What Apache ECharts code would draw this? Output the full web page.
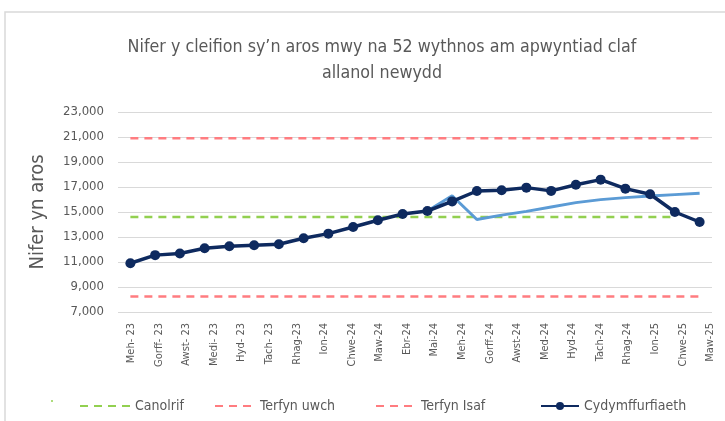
<!DOCTYPE html>
<html>
<head>
<meta charset="utf-8">
<script src="https://cdn.jsdelivr.net/npm/echarts@6/dist/echarts.min.js"></script>
<style>
  html, body { margin: 0; padding: 0; background: #fff; }
  #chart { width: 725px; height: 421px; }
</style>
</head>
<body>
<div id="chart"></div>
<script>
// mis-labeli ar yr echel (22)
const axisLabels = ['Meh- 23', 'Gorff- 23', 'Awst- 23', 'Medi- 23', 'Hyd- 23', 'Tach- 23', 'Rhag-23', 'Ion-24',
    'Chwe-24', 'Maw-24', 'Ebr-24', 'Mai-24', 'Meh-24', 'Gorff-24', 'Awst-24', 'Med-24', 'Hyd-24',
    'Tach-24', 'Rhag-24', 'Ion-25', 'Chwe-25', 'Maw-25'];
// misoedd y data (24 pwynt)
const months = ['Meh-23', 'Gorff-23', 'Awst-23', 'Medi-23', 'Hyd-23', 'Tach-23', 'Rhag-23', 'Ion-24',
    'Chwe-24', 'Maw-24', 'Ebr-24', 'Mai-24', 'Meh-24', 'Gorff-24', 'Awst-24', 'Med-24', 'Hyd-24',
    'Tach-24', 'Rhag-24', 'Ion-25', 'Chwe-25', 'Maw-25', 'Ebr-25', 'Mai-25'];

const cydymffurfiaeth = [10900, 11550, 11680, 12100, 12260, 12340, 12420, 12900, 13270, 13800, 14340, 14840,
    15080, 15850, 16680, 16740, 16950, 16690, 17180, 17590, 16870, 16420, 15000, 14200];
const taflwybr = [null, null, null, null, null, null, null, null, null, null, null, null,
    15080, 16300, 14400, 14750, 15050, 15400, 15750, 15990, 16150, 16280, 16390, 16500];
const canolrif = [14600, 14600, 14600, 14600, 14600, 14600, 14600, 14600, 14600, 14600, 14600, 14600,
    14600, 14600, 14600, 14600, 14600, 14600, 14600, 14600, 14600, 14600, 14600];
const terfynUwch = [20900, 20900, 20900, 20900, 20900, 20900, 20900, 20900, 20900, 20900, 20900, 20900,
    20900, 20900, 20900, 20900, 20900, 20900, 20900, 20900, 20900, 20900, 20900, 20900];
const terfynIsaf = [8250, 8250, 8250, 8250, 8250, 8250, 8250, 8250, 8250, 8250, 8250, 8250,
    8250, 8250, 8250, 8250, 8250, 8250, 8250, 8250, 8250, 8250, 8250, 8250];

const textGrey = '#595959';
const font = '"Liberation Sans Narrow", "DejaVu Sans Condensed", "Liberation Sans", sans-serif';

const myChart = echarts.init(document.getElementById('chart'));

// llinell doredig heb symbol
const dashed = (name, data, color) => ({
    name: name,
    type: 'line',
    data: data,
    symbol: 'none',
    silent: true,
    lineStyle: { color: color, width: 2.5, type: [8, 6] },
    itemStyle: { color: color },
});

// un chwedl i bob eitem, er mwyn eu gosod fel yn y llun
const legendItem = (name, left, width, hideSymbol) => ({
    data: [hideSymbol ? { name: name, itemStyle: { opacity: 0 } } : name],
    left: left,
    top: 394,
    itemWidth: width,
    itemHeight: 10,
    textStyle: { color: textGrey, fontSize: 14, fontFamily: font },
});

myChart.setOption({
    animation: false,
    textStyle: { fontFamily: font },
    graphic: [
        {
            type: 'rect',
            shape: { x: 5, y: 12, width: 730, height: 420 },
            style: { fill: 'none', stroke: '#d9d9d9', lineWidth: 1.5 },
            silent: true,
        },
        {
            type: 'circle',
            shape: { cx: 52, cy: 401, r: 1 },
            style: { fill: '#92d050' },
            silent: true,
        },
    ],
    title: {
        text: 'Nifer y cleifion sy\u2019n aros mwy na 52 wythnos am apwyntiad claf\nallanol newydd',
        left: 377,
        top: 29,
        textAlign: 'center',
        textStyle: { color: textGrey, fontSize: 17.7, fontWeight: 'normal', lineHeight: 26, fontFamily: font },
    },
    legend: [
        legendItem('Canolrif', 74, 50, true),
        legendItem('Terfyn uwch', 209, 40, true),
        legendItem('Terfyn Isaf', 370, 40, true),
        legendItem('Cydymffurfiaeth', 535, 38, false),
    ],
    grid: [
        { left: 118, right: 13, top: 112, bottom: 109 },
        { left: 117.5, right: 1, top: 112, bottom: 109 },
    ],
    xAxis: [
        {
            type: 'category',
            gridIndex: 0,
            data: months,
            boundaryGap: true,
            axisLine: { show: false },
            axisTick: { show: false },
            axisLabel: { show: false },
        },
        {
            type: 'category',
            gridIndex: 1,
            data: axisLabels,
            boundaryGap: true,
            axisLine: { show: false },
            axisTick: { show: false },
            axisLabel: { rotate: 90, color: textGrey, fontSize: 11, margin: 11, fontFamily: font },
        },
    ],
    yAxis: [
        {
            type: 'value',
            gridIndex: 0,
            min: 7000,
            max: 23000,
            interval: 2000,
            name: 'Nifer yn aros',
            nameLocation: 'middle',
            nameGap: 70,
            nameTextStyle: { color: textGrey, fontSize: 20, fontFamily: font },
            axisLine: { show: false },
            axisTick: { show: false },
            axisLabel: {
                color: textGrey,
                fontSize: 13,
                margin: 14,
                fontFamily: font,
                formatter: (v) => v.toLocaleString('en-GB'),
            },
            splitLine: { lineStyle: { color: '#d9d9d9', width: 1.2 } },
        },
        {
            type: 'value',
            gridIndex: 1,
            min: 7000,
            max: 23000,
            show: false,
            splitLine: { show: false },
        },
    ],
    series: [
        dashed('Canolrif', canolrif, '#92d050'),
        dashed('Terfyn uwch', terfynUwch, '#ff7c80'),
        dashed('Terfyn Isaf', terfynIsaf, '#ff7c80'),
        {
            name: 'Taflwybr',
            type: 'line',
            data: taflwybr,
            symbol: 'none',
            lineStyle: { color: '#5b9bd5', width: 3 },
            itemStyle: { color: '#5b9bd5' },
        },
        {
            name: 'Cydymffurfiaeth',
            type: 'line',
            data: cydymffurfiaeth,
            symbol: 'circle',
            symbolSize: 10,
            lineStyle: { color: '#0e2a5f', width: 3.5 },
            itemStyle: { color: '#0e2a5f' },
            z: 5,
        },
    ],
});
</script>
</body>
</html>
